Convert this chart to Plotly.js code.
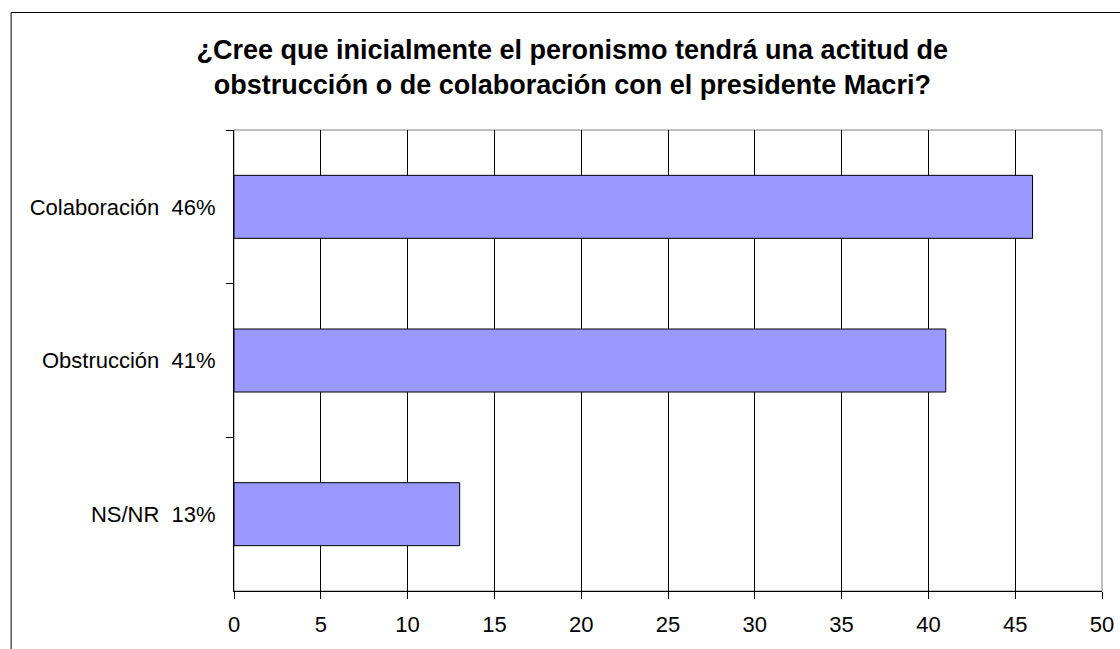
<!DOCTYPE html>
<html>
<head>
<meta charset="utf-8">
<script src="https://cdn.plot.ly/plotly-3.0.1.min.js"></script>
<style>html,body{margin:0;padding:0;background:#fff;overflow:hidden}</style>
</head>
<body>
<div id="chart" style="width:1120px;height:649px"></div>
<script>
const categories = ["Colaboración", "Obstrucción", "NS/NR"];
const values = [46, 41, 13];
const tickValues = [0, 5, 10, 15, 20, 25, 30, 35, 40, 45, 50];
const titleText = "¿Cree que inicialmente el peronismo tendrá una actitud de<br>obstrucción o de colaboración con el presidente Macri?";

const labels = categories.map((c, i) => c + "\u00a0\u00a0" + values[i] + "%");

const W = 1120, H = 649;
const mL = 233.5, mR = 18, mT = 130, mB = 58;
const pw = W - mL - mR, ph = H - mT - mB;
const px = v => (v - mL) / pw;
const py = v => (H - mB - v) / ph;

const trace = {
  type: "bar",
  orientation: "h",
  x: values,
  y: labels,
  marker: { color: "#9999FF", line: { color: "#000000", width: 1 } },
  hoverinfo: "none"
};

const layout = {
  width: W, height: H,
  margin: { l: mL, r: mR, t: mT, b: mB, pad: 0 },
  paper_bgcolor: "#ffffff",
  plot_bgcolor: "#ffffff",
  font: { family: "Liberation Sans, Arial, sans-serif", color: "#000000", size: 22 },
  title: {
    text: titleText,
    font: { family: "Liberation Sans, Arial, sans-serif", size: 27, color: "#000000", weight: "bold" },
    x: 0.511, xanchor: "center",
    y: 1 - 59 / H, yanchor: "middle", yref: "container"
  },
  bargap: 0.59,
  showlegend: false,
  xaxis: {
    range: [0, 50],
    tickmode: "array",
    tickvals: tickValues,
    ticktext: tickValues.map(String),
    showgrid: true,
    gridcolor: "#000000",
    gridwidth: 1,
    zeroline: false,
    showline: true,
    linecolor: "#000000",
    linewidth: 1,
    ticks: "outside",
    ticklen: 7,
    tickcolor: "#000000",
    tickfont: { size: 22 },
    ticklabelstandoff: 7,
    fixedrange: true
  },
  yaxis: {
    type: "category",
    autorange: "reversed",
    showgrid: false,
    zeroline: false,
    showline: true,
    linecolor: "#000000",
    linewidth: 1,
    ticks: "outside",
    tickson: "boundaries",
    ticklen: 7,
    tickcolor: "#000000",
    tickfont: { size: 22 },
    ticklabelstandoff: 13,
    fixedrange: true
  },
  shapes: [
    { type: "rect", xref: "paper", yref: "paper", x0: 0, x1: 1, y0: 0, y1: 1,
      line: { color: "#808080", width: 1 }, layer: "below" },
    { type: "rect", xref: "paper", yref: "paper",
      x0: px(10.5), x1: px(W + 20), y0: py(H + 20), y1: py(12.5),
      line: { color: "#000000", width: 1 }, fillcolor: "rgba(0,0,0,0)", layer: "above" }
  ]
};

Plotly.newPlot("chart", [trace], layout, { displayModeBar: false, staticPlot: true });
</script>
</body>
</html>
